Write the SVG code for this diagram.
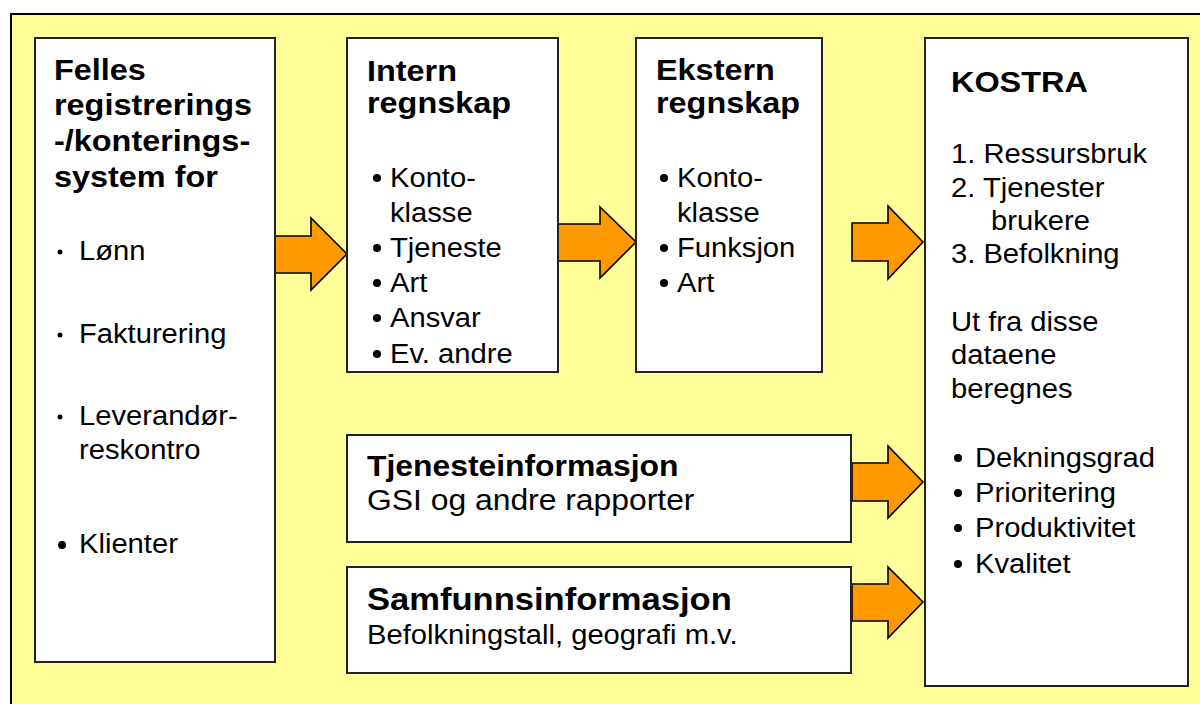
<svg xmlns="http://www.w3.org/2000/svg" width="1200" height="704" viewBox="0 0 1200 704">
<style>
.bg{fill:#FFFF99;stroke:#000;stroke-width:2}
.box{fill:#fff;stroke:#222;stroke-width:2}
.arr{fill:#FF9900;stroke:#000;stroke-width:1.6;stroke-linejoin:miter}
text{font-family:"Liberation Sans",Arial,sans-serif;fill:#000}
.h{font-weight:bold;font-size:30px}
.r{font-size:27px}
.h2{font-weight:bold;font-size:29.5px}
.r2{font-size:29.5px}
.h3{font-weight:bold;font-size:32px}
.dot{fill:#000}
</style>
<rect class="bg" x="11" y="14" width="1200" height="700"/>
<g id="connectors">
<polygon class="arr" points="275,236 311,236 311,218 347,254 311,290 311,273 275,273"/>
<polygon class="arr" points="558,224 600,224 600,207 636,242 600,278 600,261 558,261"/>
<polygon class="arr" points="852,223 888,223 888,206 923,242 888,279 888,261 852,261"/>
<polygon class="arr" points="852,463 888,463 888,446 923,482 888,518 888,501 852,501"/>
<polygon class="arr" points="852,584 888,584 888,567 923,602 888,638 888,621 852,621"/>
</g>
<g id="felles">
<rect class="box" x="35" y="38" width="240" height="624"/>
<text class="h" transform="translate(54,80) scale(1.08,1)">Felles</text>
<text class="h" transform="translate(54,115) scale(1.08,1)">registrerings</text>
<text class="h" transform="translate(54,151) scale(1.08,1)">-/konterings-</text>
<text class="h" transform="translate(54,187) scale(1.08,1)">system for</text>
<circle class="dot" cx="60" cy="252" r="2.5"/>
<text class="r" transform="translate(79,260) scale(1.08,1)">Lønn</text>
<circle class="dot" cx="60" cy="335" r="2.5"/>
<text class="r" transform="translate(79,343) scale(1.08,1)">Fakturering</text>
<circle class="dot" cx="60" cy="417" r="2.5"/>
<text class="r" transform="translate(79,425) scale(1.08,1)">Leverandør-</text>
<text class="r" transform="translate(79,459) scale(1.08,1)">reskontro</text>
<circle class="dot" cx="62" cy="545" r="4"/>
<text class="r" transform="translate(79,553) scale(1.08,1)">Klienter</text>
</g>
<g id="intern">
<rect class="box" x="347" y="38" width="211" height="334"/>
<text class="h" transform="translate(367,81) scale(1.08,1)">Intern</text>
<text class="h" transform="translate(367,113) scale(1.08,1)">regnskap</text>
<circle class="dot" cx="377" cy="178" r="4"/>
<text class="r" transform="translate(390,187) scale(1.08,1)">Konto-</text>
<text class="r" transform="translate(390,222) scale(1.08,1)">klasse</text>
<circle class="dot" cx="377" cy="248" r="4"/>
<text class="r" transform="translate(390,257) scale(1.08,1)">Tjeneste</text>
<circle class="dot" cx="377" cy="283" r="4"/>
<text class="r" transform="translate(390,292) scale(1.08,1)">Art</text>
<circle class="dot" cx="377" cy="318" r="4"/>
<text class="r" transform="translate(390,327) scale(1.08,1)">Ansvar</text>
<circle class="dot" cx="377" cy="354" r="4"/>
<text class="r" transform="translate(390,363) scale(1.08,1)">Ev. andre</text>
</g>
<g id="ekstern">
<rect class="box" x="636" y="38" width="186" height="334"/>
<text class="h" transform="translate(656,80) scale(1.08,1)">Ekstern</text>
<text class="h" transform="translate(656,113) scale(1.08,1)">regnskap</text>
<circle class="dot" cx="664" cy="178" r="4"/>
<text class="r" transform="translate(677,187) scale(1.08,1)">Konto-</text>
<text class="r" transform="translate(677,222) scale(1.08,1)">klasse</text>
<circle class="dot" cx="664" cy="248" r="4"/>
<text class="r" transform="translate(677,257) scale(1.08,1)">Funksjon</text>
<circle class="dot" cx="664" cy="283" r="4"/>
<text class="r" transform="translate(677,292) scale(1.08,1)">Art</text>
</g>
<g id="kostra">
<rect class="box" x="925" y="38" width="263" height="648"/>
<text class="h" transform="translate(951,92) scale(1.08,1)">KOSTRA</text>
<text class="r" transform="translate(951,163) scale(1.08,1)">1. Ressursbruk</text>
<text class="r" transform="translate(951,197) scale(1.08,1)">2. Tjenester</text>
<text class="r" transform="translate(991,230) scale(1.08,1)">brukere</text>
<text class="r" transform="translate(951,263) scale(1.08,1)">3. Befolkning</text>
<text class="r" transform="translate(951,331) scale(1.08,1)">Ut fra disse</text>
<text class="r" transform="translate(951,364) scale(1.08,1)">dataene</text>
<text class="r" transform="translate(951,398) scale(1.08,1)">beregnes</text>
<circle class="dot" cx="958" cy="458" r="4"/>
<text class="r" transform="translate(975,467) scale(1.08,1)">Dekningsgrad</text>
<circle class="dot" cx="958" cy="493" r="4"/>
<text class="r" transform="translate(975,502) scale(1.08,1)">Prioritering</text>
<circle class="dot" cx="958" cy="528" r="4"/>
<text class="r" transform="translate(975,537) scale(1.08,1)">Produktivitet</text>
<circle class="dot" cx="958" cy="564" r="4"/>
<text class="r" transform="translate(975,573) scale(1.08,1)">Kvalitet</text>
</g>
<g id="tjenesteinfo">
<rect class="box" x="347" y="435" width="504" height="107"/>
<text class="h2" transform="translate(367,476) scale(1.08,1)">Tjenesteinformasjon</text>
<text class="r2" transform="translate(367,510) scale(1.08,1)">GSI og andre rapporter</text>
</g>
<g id="samfunnsinfo">
<rect class="box" x="347" y="567" width="504" height="106"/>
<text class="h3" transform="translate(367,610) scale(1.08,1)">Samfunnsinformasjon</text>
<text class="r" transform="translate(367,644) scale(1.08,1)">Befolkningstall, geografi m.v.</text>
</g>
</svg>
